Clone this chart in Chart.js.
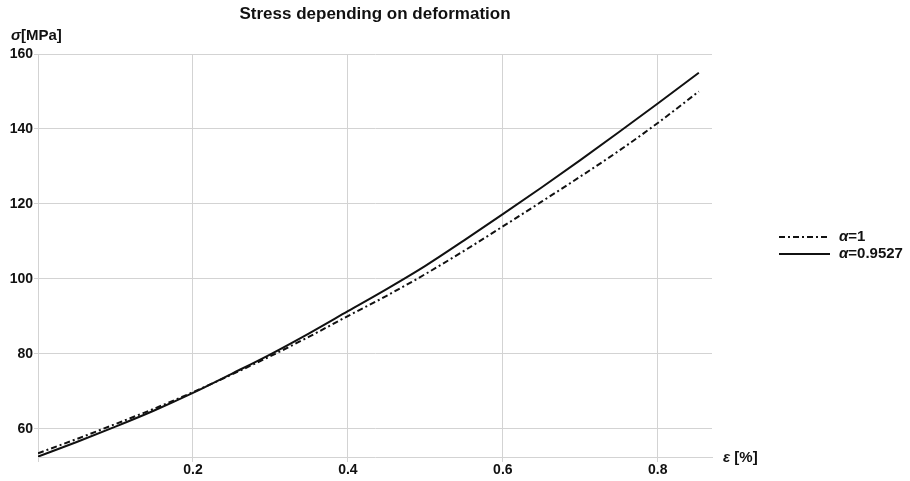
<!DOCTYPE html>
<html>
<head>
<meta charset="utf-8">
<script src="https://cdn.jsdelivr.net/npm/chart.js@4.4.1/dist/chart.umd.min.js"></script>
<style>
  html, body { margin: 0; padding: 0; background: #ffffff; }
  #wrap { width: 910px; height: 481px; }
</style>
</head>
<body>
<div id="wrap"><canvas id="c" width="910" height="481"></canvas></div>
<script>
// ---- data ----
const epsilon = [0, 0.05, 0.1, 0.15, 0.2, 0.25, 0.3, 0.35, 0.4, 0.45, 0.5, 0.55, 0.6, 0.65, 0.7, 0.75, 0.8, 0.853];
const sigmaAlpha1 = [53.5, 57.3, 61.3, 65.4, 69.8, 74.5, 79.4, 84.6, 90.1, 95.5, 101.3, 107.5, 114.0, 120.6, 127.3, 134.2, 141.6, 150.0];
const sigmaAlpha09527 = [52.6, 56.5, 60.6, 64.9, 69.6, 74.7, 79.9, 85.5, 91.4, 97.3, 103.5, 110.3, 117.3, 124.4, 131.7, 139.2, 146.8, 155.0];
const seriesLabels = ['=1', '=0.9527'];
const xTickValues = [0.2, 0.4, 0.6, 0.8];
const yTickValues = [60, 80, 100, 120, 140, 160];
const chartTitle = 'Stress depending on deformation';
const yAxisName = '[MPa]';
const xAxisName = ' [%]';

const FONT = '"Liberation Sans", Arial, sans-serif';
const INK = '#111111';
const GRID = '#d3d3d3';

function toPoints(xs, ys) { return xs.map((x, i) => ({ x: x, y: ys[i] })); }

const decorPlugin = {
  id: 'decor',
  afterDraw(chart) {
    const ctx = chart.ctx;
    const ca = chart.chartArea;
    ctx.save();
    ctx.fillStyle = INK;
    ctx.textBaseline = 'middle';
    ctx.textAlign = 'left';
    // y axis name
    ctx.font = 'italic bold 15px ' + FONT;
    ctx.fillText('σ', 11, 36);
    let w = ctx.measureText('σ').width;
    ctx.font = 'bold 15px ' + FONT;
    ctx.fillText(yAxisName, 11 + w, 36);
    // x axis name
    ctx.font = 'italic bold 15px ' + FONT;
    ctx.fillText('ε', ca.right + 11, ca.bottom + 1);
    w = ctx.measureText('ε').width;
    ctx.font = 'bold 15px ' + FONT;
    ctx.fillText(xAxisName, ca.right + 11 + w, ca.bottom + 1);
    // legend
    const rows = [237, 254];
    chart.data.datasets.forEach((ds, i) => {
      const y = rows[i];
      ctx.beginPath();
      ctx.setLineDash(ds.borderDash || []);
      ctx.strokeStyle = ds.borderColor;
      ctx.lineWidth = ds.borderWidth;
      ctx.moveTo(779, y);
      ctx.lineTo(830, y);
      ctx.stroke();
      ctx.setLineDash([]);
      ctx.font = 'italic bold 15px ' + FONT;
      ctx.fillText('α', 839, y);
      const aw = ctx.measureText('α').width;
      ctx.font = 'bold 15px ' + FONT;
      ctx.fillText(seriesLabels[i], 839 + aw, y);
    });
    ctx.restore();
  }
};

new Chart(document.getElementById('c'), {
  type: 'line',
  data: {
    datasets: [
      {
        label: 'α' + seriesLabels[0],
        data: toPoints(epsilon, sigmaAlpha1),
        borderColor: INK,
        borderWidth: 2,
        borderDash: [6, 3, 2, 3],
        pointRadius: 0,
        fill: false,
        cubicInterpolationMode: 'monotone'
      },
      {
        label: 'α' + seriesLabels[1],
        data: toPoints(epsilon, sigmaAlpha09527),
        borderColor: INK,
        borderWidth: 2,
        pointRadius: 0,
        fill: false,
        cubicInterpolationMode: 'monotone'
      }
    ]
  },
  options: {
    responsive: false,
    animation: false,
    layout: { padding: { top: 0, right: 198, bottom: 0, left: 0 } },
    plugins: {
      legend: { display: false },
      tooltip: { enabled: false },
      title: {
        display: true,
        text: chartTitle,
        fullSize: false,
        color: INK,
        font: { family: FONT, size: 17, weight: 'bold' },
        padding: { top: 4, bottom: 29.6 }
      }
    },
    scales: {
      x: {
        type: 'linear',
        min: 0,
        max: 0.87,
        afterBuildTicks(scale) {
          scale.ticks = [{ value: 0 }].concat(xTickValues.map(v => ({ value: v })));
        },
        afterFit(scale) { scale.height = 24; },
        ticks: {
          color: INK,
          padding: 0,
          maxRotation: 0,
          font: { family: FONT, size: 14, weight: 'bold' },
          callback: (v) => (v === 0 ? '' : Number(v).toFixed(1))
        },
        grid: { color: GRID, lineWidth: 1, tickLength: 5 },
        border: { display: true, color: GRID, width: 1 }
      },
      y: {
        type: 'linear',
        min: 52.5,
        max: 160,
        afterBuildTicks(scale) {
          scale.ticks = yTickValues.map(v => ({ value: v }));
        },
        afterFit(scale) { scale.width = 38; },
        ticks: {
          color: INK,
          padding: 1,
          font: { family: FONT, size: 14, weight: 'bold' },
          callback: (v) => String(v)
        },
        grid: { color: GRID, lineWidth: 1, tickLength: 4 },
        border: { display: true, color: GRID, width: 1 }
      }
    }
  },
  plugins: [decorPlugin]
});
</script>
</body>
</html>
